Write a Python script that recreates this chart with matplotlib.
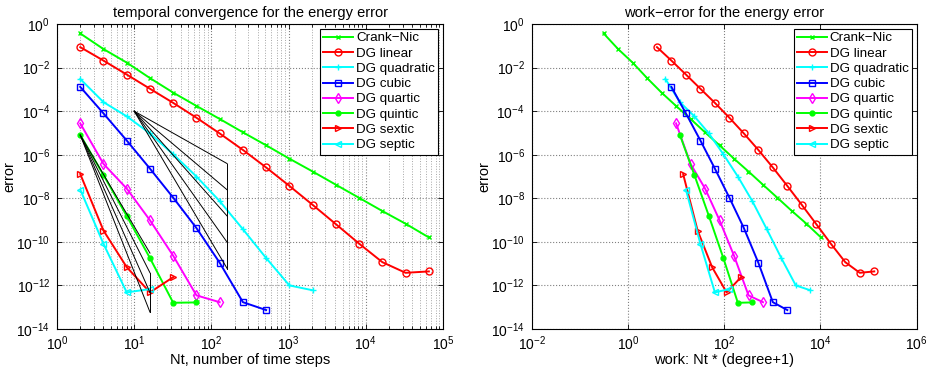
import numpy as np
import matplotlib
matplotlib.use("Agg")
import matplotlib.pyplot as plt
from matplotlib.ticker import FixedLocator, NullLocator, NullFormatter, LogFormatterSciNotation

plt.rcParams['font.family'] = ['Liberation Sans', 'DejaVu Sans']
plt.rcParams['mathtext.fontset'] = 'custom'
plt.rcParams['mathtext.rm'] = 'Liberation Sans'
plt.rcParams['mathtext.it'] = 'Liberation Sans'
plt.rcParams['mathtext.default'] = 'regular'

# number of time steps
nt = [2, 4, 8, 16, 32, 64, 128, 256, 512, 1024, 2048, 4096, 8192, 16384, 32768, 65536]

# energy errors
err_cn = [3.7e-1, 7.1e-2, 1.7e-2, 3.3e-3, 7.1e-4, 1.74e-4, 4.4e-5, 1.07e-5,
          2.7e-6, 6.6e-7, 1.7e-7, 4.2e-8, 1.05e-8, 2.6e-9, 6.8e-10, 1.6e-10]
err_lin = [8.7e-2, 2.1e-2, 4.8e-3, 1.07e-3, 2.4e-4, 5.0e-5, 9.5e-6, 1.66e-6,
           2.6e-7, 3.7e-8, 5.0e-9, 6.5e-10, 8.3e-11, 1.17e-11, 3.8e-12, 4.4e-12]
err_quad = [3.0e-3, 2.6e-4, 5.8e-5, 9.5e-6, 1.05e-6, 1.0e-7, 7.4e-9, 3.8e-10,
            1.8e-11, 1.0e-12, 6.0e-13]
err_cub = [1.3e-3, 7.9e-5, 4.5e-6, 2.3e-7, 1.07e-8, 4.3e-10, 1.1e-11, 1.7e-13, 7.4e-14]
err_quar = [2.75e-5, 3.8e-7, 2.8e-8, 9.8e-10, 2.3e-11, 3.5e-13, 1.7e-13]
err_quin = [8.1e-6, 1.17e-7, 1.55e-9, 1.8e-11, 1.6e-13, 1.66e-13]
err_sext = [1.3e-7, 3.3e-10, 6.9e-12, 4.8e-13, 2.4e-12]
err_sept = [2.5e-8, 8.1e-11, 4.8e-13, 6.8e-13]

labels = ['Crank\u2212Nic', 'DG linear', 'DG quadratic', 'DG cubic',
          'DG quartic', 'DG quintic', 'DG sextic', 'DG septic']
degrees = [None, 1, 2, 3, 4, 5, 6, 7]
cn_work_factor = 0.156   # work per step for Crank-Nic as it appears in the plot

# axis ticks
yticks = [1e-14, 1e-12, 1e-10, 1e-8, 1e-6, 1e-4, 1e-2, 1e0]
xticks1 = [1e0, 1e1, 1e2, 1e3, 1e4, 1e5]
xticks2 = [1e-2, 1e0, 1e2, 1e4, 1e6]

# reference slope fans
fan1_x = [10, 160]
fan1_y0 = 1e-4
fan1_p = [2, 3, 4, 5, 6]
fan2_x = [2, 16]
fan2_y0 = 8e-6
fan2_p = [6, 7, 8, 9]

errs = [err_cn, err_lin, err_quad, err_cub, err_quar, err_quin, err_sext, err_sept]
styles = [
    dict(color=(0, 1, 0), marker='x', ms=3.5, mfc='none'),
    dict(color=(1, 0, 0), marker='o', ms=5, mfc='none'),
    dict(color=(0, 1, 1), marker='+', ms=4, mfc='none'),
    dict(color=(0, 0, 1), marker='s', ms=5, mfc='none'),
    dict(color=(1, 0, 1), marker='d', ms=5, mfc='none'),
    dict(color=(0, 1, 0), marker='.', ms=7),
    dict(color=(1, 0, 0), marker='>', ms=5, mfc='none'),
    dict(color=(0, 1, 1), marker='<', ms=5, mfc='none'),
]

fig = plt.figure(figsize=(9.27, 3.71), dpi=100)
ax1 = fig.add_axes([0.0615, 0.1132, 0.4164, 0.822])
ax2 = fig.add_axes([0.5736, 0.1132, 0.4153, 0.822])

for e, lab, st in zip(errs, labels, styles):
    x = np.array(nt[:len(e)])
    ax1.loglog(x, e, lw=1.4, mew=1.0, label=lab, **st)

# slope fans
for p in fan1_p:
    ax1.loglog(fan1_x, [fan1_y0, fan1_y0 * (fan1_x[0] / fan1_x[1]) ** p], 'k-', lw=0.7)
ax1.loglog([fan1_x[1], fan1_x[1]],
           [fan1_y0 * (fan1_x[0] / fan1_x[1]) ** fan1_p[0],
            fan1_y0 * (fan1_x[0] / fan1_x[1]) ** fan1_p[-1]], 'k-', lw=0.7)
for p in fan2_p:
    ax1.loglog(fan2_x, [fan2_y0, fan2_y0 * (fan2_x[0] / fan2_x[1]) ** p], 'k-', lw=0.7)
ax1.loglog([fan2_x[1], fan2_x[1]],
           [fan2_y0 * (fan2_x[0] / fan2_x[1]) ** fan2_p[1],
            fan2_y0 * (fan2_x[0] / fan2_x[1]) ** fan2_p[-1]], 'k-', lw=0.7)

for e, lab, st, d in zip(errs, labels, styles, degrees):
    x = np.array(nt[:len(e)], dtype=float)
    if d is None:
        w = x * cn_work_factor
    else:
        w = x * (d + 1)
    ax2.loglog(w, e, lw=1.4, mew=1.0, label=lab, **st)

ax1.set_xlim(1, 1e5)
ax2.set_xlim(1e-2, 1e6)
for ax in (ax1, ax2):
    ax.set_ylim(1e-14, 1)
    ax.yaxis.set_major_locator(FixedLocator(yticks))
    ax.yaxis.set_major_formatter(LogFormatterSciNotation())
    ax.yaxis.set_minor_locator(NullLocator())
    ax.tick_params(which='both', direction='in', top=True, right=True,
                   labelsize=10, width=0.6)
    ax.tick_params(which='major', length=3.5)
    ax.tick_params(which='minor', length=2)
    ax.tick_params(axis='y', pad=5)
    ax.tick_params(axis='x', pad=4)
    ax.grid(True, which='major', ls=':', color='0.5', lw=0.8)
    for s in ax.spines.values():
        s.set_linewidth(0.8)
    ax.set_ylabel('error', fontsize=10.5, labelpad=0)
    leg = ax.legend(loc='upper right', fontsize=9.6, frameon=True, fancybox=False,
                    framealpha=1, edgecolor='k', borderaxespad=0.35,
                    handlelength=2.2, labelspacing=0.22, borderpad=0.25,
                    handletextpad=0.25)
    leg.get_frame().set_linewidth(0.8)

minor1 = [m * 10.0 ** k for k in range(0, 5) for m in range(2, 10)]
ax1.xaxis.set_major_locator(FixedLocator(xticks1))
ax1.xaxis.set_major_formatter(LogFormatterSciNotation())
ax1.xaxis.set_minor_locator(FixedLocator(minor1))
ax1.xaxis.set_minor_formatter(NullFormatter())
ax1.grid(True, which='minor', axis='x', ls=':', color='0.65', lw=0.7)
ax2.xaxis.set_major_locator(FixedLocator(xticks2))
ax2.xaxis.set_major_formatter(LogFormatterSciNotation())
ax2.xaxis.set_minor_locator(NullLocator())

ax1.set_title('temporal convergence for the energy error', fontsize=10.5, pad=5)
ax2.set_title('work\u2212error for the energy error', fontsize=10.5, pad=5)
ax1.set_xlabel('Nt, number of time steps', fontsize=10.5, labelpad=0)
ax2.set_xlabel('work: Nt * (degree+1)', fontsize=10.5, labelpad=0)

fig.savefig('out.png', dpi=100)
